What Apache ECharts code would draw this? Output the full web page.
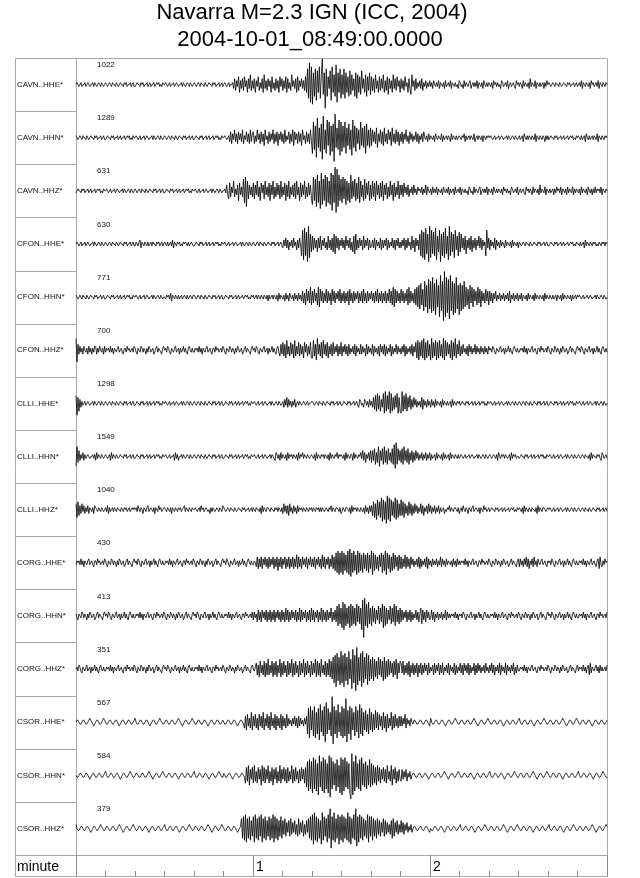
<!DOCTYPE html>
<html><head><meta charset="utf-8">
<script src="https://cdn.jsdelivr.net/npm/echarts@6/dist/echarts.min.js"></script>
<style>html,body{margin:0;padding:0;background:#fff}#c{width:640px;height:878px}</style>
</head><body><div id="c"></div>
<script>
// ---------- data ----------
const TITLE = 'Navarra M=2.3 IGN (ICC, 2004)';
const SUBTITLE = '2004-10-01_08:49:00.0000';
const channels = ['CAVN..HHE*','CAVN..HHN*','CAVN..HHZ*','CFON..HHE*','CFON..HHN*','CFON..HHZ*',
  'CLLI..HHE*','CLLI..HHN*','CLLI..HHZ*','CORG..HHE*','CORG..HHN*','CORG..HHZ*','CSOR..HHE*','CSOR..HHN*','CSOR..HHZ*'];
const maxCounts = [1022,1289,631,630,771,700,1298,1549,1040,430,413,351,567,584,379];
const durationSec = 180;           // x axis: 0 .. 3 minutes
const tickStepSec = 10;
const minuteTickSec = [60, 120];
const minuteTickLabels = ['1', '2'];
const timeUnitName = 'minute';
// Each trace: one letter per 1/3 s sample (30 letters = 10 s), 'M' = 0, 'A' = -12 ... 'Z' = +13 (normalised amplitude)
const trace_CAVN_HHE = [
 "MNMLM NLMMN LMNML MMNLN MLMNM LNMLM","NMLMN MLNMM LNMLM NMMLN MNLMM NLMNL","LMNMM LNMNL MMNLM NLMMN LMNMN LMLNM",
 "MNMLM NLMMN LMNML MMNLN MLMNM LNMLM","NMLMN MLNMM LNMLM NMMLN MNLMM NLMNL","MNMLM NLMMN KPJOL QIOKP JQLOI PKRJO",
 "KPIOL QJNKP IRKOJ PLOIQ KNJPK OIQLP","JOKQI PKNJR LOKPI QJOLP KOJQI UFXDV","CSGUE TIVFQ ZHSAU GQKTE VIRGW DSIUF",
 "RHUFS IQGTH RJPGS FRIQH TKPIR GQJSH","QJPIR KOIQJ PKRIO JQHPK OIRKP JQLOI","PKOJQ LNIPK HRLOJ PKNLO KPJNL OKNLO",
 "LNKOM LNLOK NMLNK OLMNL OKNML NLMKO","NLMKO LNMLN OKMNL NLOKN MLNKO MLNLN","MLNKO MNLNL MKONL MNLOK MNLMN LKOMN",
 "LNMKO LNMLN KPLNM LOKNM LNLMN KNLOM","NMLMN MLNMM LNMLM NMMLN MNLMM NLMNL","MNLOK NMLNM LNKOM NLMNL OKNML NMLNM"].join('');
const trace_CAVN_HHN = [
 "NMLMN MLNMM LNMLM NMMLN MNLMM NLMNL","LMNMM LNMNL MMNLM NLMMN LMNMN LMLNM","MNMLM NLMMN LMNML MMNLN MLMNM LNMLM",
 "NMLMN MLNMM LNMLM NMMLN MNLMM NLMNL","LMNMM LNMNL MMNLM NLMMN LMNMN LMLNM","MNMLM NKPJO LQKOJ PLOKQ JNLPK OJQKO",
 "PJNKQ LOJPK OIQLN JPKOL QJOKP IOLPK","OJQKN LPJOK QIPLO JPKOI QLNJP KOJQK","EUGSC WHRFT BXGQE VIUDS FTAYH RGVDU",
 "FSHUE RITGQ DVHSF RJQGU IRHSE TIQHR","IQKPJ RHOKQ JPIRK OJQLP IRKOJ QKPIO","KPJOL QKNJP LOKNL PKOJN LOKPM LNKOL",
 "NMLNK OMLNM LOKNL MNLNM KOLNM LNLMN","MLNMO KNLMN LNMLO KMNLN MLNKN MLNMN","MNMLM NLMMN LMNML MMNLN MLMNM LNMLM",
 "NLMNK OMLNL NMLNM LOKNM LNMLN MKNLN","LMNMM LNMNL MMNLM NLMMN LMNMN LMLNM","NMLNL MNKOM LNLMN LNMLO KNMLN MLNMN"].join('');
const trace_CAVN_HHZ = [
 "LMNMM LNMNL MMNLM NLMMN LMNMN LMLNM","MNMLM NLMMN LMNML MMNLN MLMNM LNMLM","NMLMN MLNMM LNMLM NMMLN MNLMM NLMNL",
 "LMNMM LNMNL MMNLM NLMMN LMNMN LMLNM","MNMLM NLMMN LMNML MMNLN MLMNM LNMLM","MNLPK IQJOL RJNKP HQKOJ SGTER IPKOJ",
 "QIPKR JOHQL PIRKO JQHPK RIOJQ KPIRJ","OKQHP JRIOK PJQIR KOHQJ PKRIO JQKPI","FTHSE UGRDV FSHUE TGRFV CUGYB XEUHS",
 "GTISF RHQGU IRJSH QITGR JPHSI QKRHP","IRJQH RKPIQ JRHPK QIOJR KPHQJ OKRIP","KPJQL OKPJN LOKPL NKOMN LOKNL PKOML",
 "NKOLN LOKNM LNKOM LNLOK NLMNK OLMNL","OKNML NLMKO NLMKO LNMLN OKMNL NLOKN","MLNKO MLNLN MLNKO MNLNL MKONL MNLOK",
 "MNLMN LKOMN LNMKO LNMLN KPLNM LOKNM","LNLMN KNLOM NLOKN MLNKO LNMLO KNLNM","LNKOL NMLNK OMLNK NLOLN MNLOK NMLNM"].join('');
const trace_CFON_HHE = [
 "MNMLM NLMMN LMNML MMNLN MLMNM LNMLM","NMLMN MLNMM LNMLM NMMLN MNLMM NLMNL","LNMLN OKNML NMLNL MNLNM MLNMN LMNLM",
 "NMLNL MNLOK NMLNM NLMLN MNMLN LMNML","LMNMM LNMNL MMNLM NLMMN LMNMN LMLNM","MNMLM NLMMN LMNML MMNLN MLMNM LNMLM",
 "NMLMN MLNMM LNMLM NMMLN MNLMM NLMNL","KOLPK OJNLO KPLNJ OKPLG TEUGS DVFRI","QJPKO IPKQJ OLPKN JQKOJ PIRHQ KPJOL",
 "PKOJQ LOKPJ NIQHR JOKPL OJQKO LPJOK","LOKPJ OLNKP JOKOL PJOKN LPKOJ OLPKN","KOLPJ OKPLN JQKOI PLOJR GTFSE UHRDV",
 "FTHSG UEQIT DRGSF UHQEV GSIRF TJQGS","IRKPJ QHOKP JQIOK PJOLQ KPJOL NGTKP","JOLNK PJOLN KOLNM KOLNM LNKOL NMLNK",
 "NMLMN MLNMM LNMLM NMMLN MNLMM NLMNL","LMNMM LNMNL MMNLM NLMMN LMNMN LMLNM","MLNLM NKOLN MLNML NMNLM LNMLN MNLNM"].join('');
const trace_CFON_HHN = [
 "NMLMN MLNMM LNMLM NMMLN MNLMM NLMNL","LMNMM LNMNL MMNLM NLMMN LMNMN LMLNM","MNMLM NLMMN LMNML MMNLN MLMNM LNMLM",
 "MLNMN LOKNM LNMLN LMNLM NMLNL MNMLN","NMLMN MLNMM LNMLM NMMLN MNLMM NLMNL","LMNMM LNMNL MMNLM NLMMN LMNMN LMLNM",
 "NLMNL NMLNM LNMLN KNLMN LNMLN KOLNM","LNKOL NKOML NKOLN KOLNK PJOIQ KPJRI","PJQKO IRHQK PJOKQ JPKOI QKPJO LPKQJ",
 "OKPJO KPIQK OJPKO LPJOK PJQKO JPKOL","PKOJP KQJOK PJOKP JOKQJ PIRHQ JPKOJ","QKPJO KQIRJ PKOJQ IRHSG TIQFU HSEVG",
 "UEWFT DVHSC XFUAZ CWEVB XFUDT EWGSD","TFSGU HRIQG SJRHQ KPIRJ QHPKO JQKPI","PKOJO LPKNL OKNLO KNLOK PJNLO KNLOK",
 "NLOKN MLNKO LNMLN KOLNM LNMLN KOLNM","LNMLN LMNKN MLNKO LNMLN MLNKN LMNLN","MNMLM NLMMN LMNML MMNLN MLMNM LNMLM"].join('');
const trace_CFON_HHZ = [
 "SGPKO LNKOM LNKOL NKNLO OKNLO MLNKO","LNMNL OLNKN MLNOL MNLKN NLOMN LMNLO","NLKNM LONLN MKNLO NLMNK LNOLN MLKNO",
 "MNLON LKNML NOLMN KNLMO LNLKN OMLNL","LNMNL OLNKN MLNOL MNLKN NLOMN LMNLO","NLKNM LONLN MKNLO NLMNK LNOLN MLKNO",
 "MNLON LKNML NOLMN KNLMO LNLKN OLJPK","QJPIR KOJQK PIRJO KQJPK OIQLP JOKQI","IRJPH SKPJQ IRKPJ QIOKP JQKOL PJOKQ",
 "JOLPK OJPKN LOKPJ OLNKP KOLNJ PKOLN","KPJOL NKOJP LOKPJ OKNLP JOKNL PKOLN","KOLPJ OKNLO KPJOL QIRHQ JRISH QIRJP",
 "HSIQJ RHQIR JPISH RJQKP IRHQJ SIPKR","JOKPL NKOJP LOKNL PKOLN KOLNK OLNKO","MNLON LKNML NOLMN KNLMO LNLKN OMLNL",
 "LNMNL OLNKN MLNOL MNLKN NLOMN LMNLO","NLKNM LONLN MKNLO NLMNK LNOLN MLKNO","MNLON LKNML NOLMN KNLMO LNLKN OMLNL"].join('');
const trace_CLLI_HHE = [
 "QGPIO KNLMN LMNML MMNLN MLMNM LNMLM","NMLMN MLNMM LNMLM NMMLN MNLMM NLMNL","LMNMM LNMNL MMNLM NLMMN LMNMN LMLNM",
 "MNMLM NLMMN LMNML MMNLN MLMNM LNMLM","NMLMN MLNMM LNMLM NMMLN MNLMM NLMNL","LMNMM LNMNL MMNLM NLMMN LMNMN LMLNM",
 "MNMLM NLMMN LMNML MMNLN MLMNM LNMLM","NKOLP KOLNK NLOKM NLNML MNMLM NLMMN","NMLMN MLNMM LNMLM NMMLN MNLMM NLMNL",
 "LMNMM LNMNL MMNLM NLKON LMKON LNKOL","NKPJQ IRJQI OKRHS IQJSH RIPJQ KRHPI","HSIQJ RIPKQ JOKPL OKNLN KPJOL NKOLN",
 "KOLNK OLNML NKOLN MLNLM NKOLN MLNMN","LMNMM LNMNL MMNLM NLMMN LMNMN LMLNM","MNMLM NLMMN LMNML MMNLN MLMNM LNMLM",
 "NMLMN MLNMM LNMLM NMMLN MNLMM NLMNL","LMNMM LNMNL MMNLM NLMMN LMNMN LMLNM","MNMLM NLMMN LMNML MMNLN MLMNM LNMLM"].join('');
const trace_CLLI_HHN = [
 "HRJPK NLOKN LMNML MMNLN KOLNM LNMLM","NMLMN KOLNM LNMLM NMMLN MNLMM NLMNL","LMNMM LNMNL MMNLM NLMMN LMNMN LMLNM",
 "MNMLM NLMMN KOLNK MMNLN MLMNM LNMLM","NMLMN MLNMM LNMLM NMMLN MNLMM NLMNL","LMNMM LNMNL MMNLM NLMMN LMNMN LMLNM",
 "MNMLM NLMMN LMNML MMNLN MLKON LNKOL","NMLNK OLNMN LNMLN KOLNM OLNML NMLMN","MLNKO LNMLN MNLNM LNKOL NMLNM OLNMN",
 "MLNKO LNMLN NKOLN MLNMO LPKOJ NLOKP","JPKQI OJRHP KQIRJ PIQKO JQISG TIQKP","JQIRK PJQIO KPJOK PLOKN LOKNL OKNLO",
 "KNLMN KOLNM LNKOL NLMNK OLNML NMLNL","MNMLM NLMMN LMNML MMNLN MLMNM LNMLM","NMLMN MLNKO MLNMN LNMLM NKOLN MNLMM",
 "LMNMM LNMNL MMNLM NLMMN LMNMN LMLNM","MNMLM NLMMN LMNML MMNLN MLMNM LNMLM","NMLMN MLNMM LNKOL NMMLN MNLKO NLMNL"].join('');
const trace_CLLI_HHZ = [
 "PIQJO KPLOK NLOKN MLNKO NMLNM LNMLM","NLOKN LMNLN MLNMM LNMLN MNLMN LMNMN","MNLOM LNMKN MLNOL MNMLN KNMLO MNLMN",
 "NMLNM LNKNM LNMLN MNLMN OLNML NMLNM","MNMLM NLOMN LMNML MKNLN MLMNM LNMLO","NMLMN MLNMM LNMLM NMMLN MNLMM NLMNL",
 "NMLNM MLNKO LNMLN NMLNM MLNMN LNMLN","KPLOK OJPLN KOLNK OLNMN LNMLN MLNMN","LNMLN MNLNL NMLMN MLNMO LNMLN NMLNK",
 "LNMLN NMLNK OLNMN LNMLN MLNKO LNKOL","OJQIP HRJQI SGRHQ FTHSG RJQIS HRIPJ","RJQIP KOJQK PJOKP LOKNL PKOJN LOKPL",
 "OKNLO KNLOK NLMNK MLNMO LNMLN NMLNK","MNLOM LNMKN MLNOL MNMLN KNMLO MNLMN","LMNMM LNMNL MMNLM NLMMN LMNMN LMLNM",
 "NMLNK OLNML NMLNM MLNKO LNMLN NMLMN","MNMLM NLMMN LMNML MMNLN MLMNM LNMLM","NMLMN MLNMM LNMLM NMMLN MNLMM NLMNL"].join('');
const trace_CORG_HHE = [
 "LNMNL OLNKN MLNOL MNLKN NLOMN LMNLO","NLKNM LONLN MKNLO NLMNK LNOLN MLKNO","MNLON LKNML NOLMN KNLMO LNLKN OMLNL",
 "LNMNL OLNKN MLNOL MNLKN NLOMN LMNLO","NLKNM LONLN MKNLO NLMNK LNOLN MLKNO","MNLON LKNML NOLMN KNLMO LNLKN OMLNL",
 "LNMKP JOKPJ OLPKO JPKOL PJOKP IOKPJ","OLPJO KPJOK PJOKQ JPKOJ PLOKP JOLPK","OKPJO LPKOJ QKPJO LPJOK QJPIR HSGRH",
 "SGRIQ HSGTF RHSIQ GSHRI QHRJQ IRHQJ","SGRIQ JPIQK RHQIS GRJQH PIRJQ KPIQJ","PJOKQ JPKOJ PLOKN LOKPJ OKNLO KPJOL",
 "NKOLN LOKNL PKOLN KOLNM LNKOL NKOLN","LNMNL OLNKN MLNOL MNLKN NLOMN LMNLO","NLKNM LONLN MKNLO NLMNK LNOLN MLKNO",
 "KOLNK OLPKO JNLOK PLNKO MLNOL MNLKN","MNLON LKNML NOLMN KNLMO LNLKN OMLNL","LNMNL OLNKN MLNOL MNLKN OJPLK NLOMN"].join('');
const trace_CORG_HHN = [
 "NLKNM LONLN MKNLO NLMNK LNOLN MLKNO","MNLON LKNML NOLMN KNLMO LNLKN OMLNL","LNMNL OLNKN MLNOL MNLKN NLOMN LMNLO",
 "NLKNM LONLN MKNLO NLMNK LNOLN MLKNO","MNLON LKNML NOLMN KNLMO LNLKN OMLNL","LNMNL OLNKN MLNOL MNLKN NLOMN LMNLO",
 "KOLNJ PKOJP LOKPJ OKPJO KPJOL PKOJP","KOJQK PJOKP LOKPJ OKQJP KOLPJ OKPJQ","KPJOL PJOKQ JPKOJ PKOLQ JOKPJ RHSIQ",
 "GTFSH QIRGS HRIQH SJRIQ FUBVH SGTIQ","HRJQI PKRIQ JSGRH QIPKR IQJSH RJPIQ","JPKOL PJOKP JOKNL PKOJN QIPKO JPLOK",
 "LPKOJ NLOKN LOKNL PKOLN LNMNL OLNKN","MNLON LKNML NOLMN KNLMO LNLKN OMLNL","LNMNL OLNKN MLNOL MNLKN NLOMN LMNLO",
 "NLKNM LONLN MKNLO NLMNK LNOLN MLKNO","MNLON LKNML NOLMN KNLMO LNLKN OMLNL","LNMNL OLNKN MLNOL MNLKN NLOMN LMNLO"].join('');
const trace_CORG_HHZ = [
 "MNLON LKNML NOLMN KNLMO LNLKN OMLNL","LNMNL OLNKN MLNOL MNLKN NLOMN LMNLO","NLKNM LONLN MKNLO NLMNK LNOLN MLKNO",
 "MNLON LKNML NOLMN KNLMO LNLKN OMLNL","LNMNL OLNKN MLNOL MNLKN NLOMN LMNLO","NLKNM LONLN MKNLO NLMNK LNOLN MLKNO",
 "MLNPJ OIQKO JQIPJ RJOKQ IPJQI OKRIP","JQKOI QJPKR IPJQK OIQJP KRIPJ QKOIQ","JPKRI QJPIR KOJQI PJRIQ HSFTD UGSEV",
 "FTDUG SEVHR CWFTB XESGU DVFSH UETGR","HSGRI QHSJR IQGSH QIRJQ KPIQJ RHPKQ","PKQJO KPJQI OKPJO KPIOK PJOKP LOJPK",
 "NLOJP KOLPJ OKPJN LOKPJ OLNKP JOKNL","PKOJP LOKPJ OKNLP JOKPL OKNLO KPLNK","OLPKO JNLOK PJOLN KPJOL NKOLP JNKOL",
 "LNMNL OLNKN MLNOL MNLKN NLOMN LMNLO","NLKNM LONLN MKNLO NLMNK LNOLN MLKNO","LNMNL OLNKN OJPKN MLNOL NKOLN LMNLO"].join('');
const trace_CSOR_HHE = [
 "MNNML LMNNM LLMNO NMLKL MNNML LMNON","MLLMN NMLLM NNMLK LMNNM LLMNN MLLMN","OMLLM NNMLL MNNML KLMNN MLLMN ONMLL",
 "MNNML LMNNM LLMNO NMLKL MNNML LMNON","MLLMN NMLLM NNMLK LMNNM LLMNN MLLMN","MLLMN NMLLM NNMLK LMNNM LJPIQ KOJRI",
 "PKQJO IQKPJ RIOKQ JPIRK OJQIP KOJQI","PKOJQ KOLNK OLPKO JPKOL NKOLP GTEUI","SFUER GTDVH SFUCW GTIRF ZBUGS EVHRF",
 "UETFY CSGUD TIRFU HSEVG TFRIS HQGTI","RHQIS JRIQK PIRJP HQJOK RIPJQ KOJPK","PKOLQ JOLNK OMLNN MLLMN NMLLM NNMLK",
 "OMLLM NNMLL MNNML KLMNN MLLMN ONMLL","MNNML LMNNM LLMNO NMLKL MNNML LMNON","MLLMN NMLLM NNMLK LMNNM LLMNN MLLMN",
 "OMLLM NNMLL MNNML KLMNN MLLMN ONMLL","MNNML LMNNM LLMNO NMLKL MNNML LMNON","MLLMN NMLLM NNMLK LMNNM LLMNN MLLMN"].join('');
const trace_CSOR_HHN = [
 "MLLMN NMLLM NNMLK LMNNM LLMNN MLLMN","OMLLM NNMLL MNNML KLMNN MLLMN ONMLL","MNNML LMNNM LLMNO NMLKL MNNML LMNON",
 "MLLMN NMLLM NNMLK LMNNM LLMNN MLLMN","OMLLM NNMLL MNNML KLMNN MLLMN ONMLL","NMLLM NNMLK LMNNM LLMNN MLIQJ RHPKQ",
 "IRJOI QKPHR JQIPK RIOJQ HPKQI OJRIP","KQJPI QJOKR IPJQK OIPJQ KPIQG TEUFT","DVFUE SCWGT EVDUF SDWBV FTHSE UGRDV",
 "CUEVG TFSDA XCTEW GSFUE VHSGT FRHUG","SHRIQ HRJQI PKQJP IRKOJ RHPKQ IOJPK","JPKOL PJNLO KMNNM LLMNN MLLMN NMLKL",
 "MNNML LMNNM LLMNO NMLKL MNNML LMNON","MLLMN NMLLM NNMLK LMNNM LLMNN MLLMN","OMLLM NNMLL MNNML KLMNN MLLMN ONMLL",
 "MNNML LMNNM LLMNO NMLKL MNNML LMNON","MLLMN NMLLM NNMLK LMNNM LLMNN MLLMN","OMLLM NNMLL MNNML KLMNN MLLMN ONMLL"].join('');
const trace_CSOR_HHZ = [
 "OMLLM NNMLL MNNML KLMNN MLLMN ONMLL","MNNML LMNNM LLMNO NMLKL MNNML LMNON","MLLMN NMLLM NNMLK LMNNM LLMNN MLLMN",
 "OMLLM NNMLL MNNML KLMNN MLLMN ONMLL","MNNML LMNNM LLMNO NMLKL MNNML LMNON","MLLMN NMLLM NNMLK LMNRH SGTFR HSGQI",
 "SFTHR GSITF RHSGQ ISGRH TFSHR GQISH","QJRIP KQIRJ PKQJO IRJPK QIOJQ KRHSG","TEUGS FRHQE UGSIR FTHWC SGUFR HTESG",
 "TFSHR GUFSE RHTGW DSFTH SGRIQ HTFSI","SGRIQ HRJQI PKRIQ JPKOJ QHRIP KQJOK","QKPJO LPKNL OKMNN MLLMN NMLLM NNMLK",
 "MLLMN NMLLM NNMLK LMNNM LLMNN MLLMN","OMLLM NNMLL MNNML KLMNN MLLMN ONMLL","MNNML LMNNM LLMNO NMLKL MNNML LMNON",
 "MLLMN NMLLM NNMLK LMNNM LLMNN MLLMN","OMLLM NNMLL MNNML KLMNN MLLMN ONMLL","MNNML LMNNM LLMNO NMLKL MNNML LMNON"].join('');
const traces = [trace_CAVN_HHE, trace_CAVN_HHN, trace_CAVN_HHZ, trace_CFON_HHE, trace_CFON_HHN, trace_CFON_HHZ,
  trace_CLLI_HHE, trace_CLLI_HHN, trace_CLLI_HHZ, trace_CORG_HHE, trace_CORG_HHN, trace_CORG_HHZ,
  trace_CSOR_HHE, trace_CSOR_HHN, trace_CSOR_HHZ];

// ---------- layout ----------
const FONT = '"Liberation Sans", Arial, Helvetica, sans-serif';
const FRAME_L = 15, FRAME_R = 607, PLOT_L = 76, TOP = 58, AXIS_TOP = 855, BOTTOM = 876;
const N = channels.length;
const rowH = (AXIS_TOP - TOP) / N;
const frameColor = '#a8a8a8';

function decode(s) {
  const c = s.replace(/\s+/g, '');
  const n = c.length, dt = durationSec / (n - 1);
  const out = [];
  for (let i = 0; i < n; i++) out.push([i * dt, c.charCodeAt(i) - 77]);
  return out;
}

const grid = [], xAxis = [], yAxis = [], series = [], graphic = [];
for (let i = 0; i < N; i++) {
  const top = TOP + i * rowH;
  grid.push({left: PLOT_L, right: 640 - FRAME_R, top: top, height: rowH});
  xAxis.push({gridIndex: i, type: 'value', min: 0, max: durationSec, show: false});
  yAxis.push({gridIndex: i, type: 'value', min: -13.5, max: 13.5,
    axisLine: {show: false}, axisTick: {show: false}, axisLabel: {show: false}, splitLine: {show: false},
    name: channels[i], nameLocation: 'middle', nameGap: PLOT_L - FRAME_L - 2, nameRotate: 0,
    nameTextStyle: {align: 'left', verticalAlign: 'middle', fontSize: 8, color: '#111', fontFamily: FONT}});
  // one polyline per trace (lines series keeps every sub-pixel wiggle)
  series.push({type: 'lines', coordinateSystem: 'cartesian2d', xAxisIndex: i, yAxisIndex: i,
    polyline: true, silent: true, large: false,
    data: [{coords: decode(traces[i])}],
    lineStyle: {color: '#000', width: 0.8, opacity: 1, curveness: 0}});
  graphic.push({type: 'text', x: 97, y: top + 7, silent: true,
    style: {text: String(maxCounts[i]), fontSize: 8, fontFamily: FONT, fill: '#111', verticalAlign: 'middle'}});
  if (i > 0) graphic.push({type: 'line', silent: true, shape: {x1: FRAME_L, y1: Math.round(top) + 0.5, x2: PLOT_L, y2: Math.round(top) + 0.5},
    style: {stroke: frameColor, lineWidth: 1}});
}
// bottom time axis
grid.push({left: PLOT_L, right: 640 - FRAME_R, top: AXIS_TOP, height: BOTTOM - AXIS_TOP});
xAxis.push({gridIndex: N, type: 'value', min: 0, max: durationSec, interval: tickStepSec, position: 'bottom',
  axisLine: {show: false}, splitLine: {show: false},
  axisTick: {show: true, inside: true, length: 5, lineStyle: {color: '#888', width: 1}},
  axisLabel: {show: true, inside: true, margin: 9, align: 'left', verticalAlign: 'middle', padding: [0, 0, 0, 3],
    fontSize: 14, color: '#000', fontFamily: FONT,
    formatter: v => { const k = minuteTickSec.indexOf(v); return k >= 0 ? minuteTickLabels[k] : ''; }}});
xAxis.push({gridIndex: N, type: 'value', min: 0, max: durationSec, interval: 60, position: 'bottom',
  axisLine: {show: false}, splitLine: {show: false}, axisLabel: {show: false},
  axisTick: {show: true, inside: true, length: BOTTOM - AXIS_TOP, lineStyle: {color: '#888', width: 1}}});
yAxis.push({gridIndex: N, type: 'value', min: 0, max: 1, show: false});

// frame
graphic.push({type: 'rect', silent: true, shape: {x: FRAME_L + 0.5, y: TOP + 0.5, width: FRAME_R - FRAME_L, height: BOTTOM - TOP},
  style: {fill: 'none', stroke: frameColor, lineWidth: 1}});
graphic.push({type: 'line', silent: true, shape: {x1: PLOT_L + 0.5, y1: TOP, x2: PLOT_L + 0.5, y2: BOTTOM},
  style: {stroke: frameColor, lineWidth: 1}});
graphic.push({type: 'line', silent: true, shape: {x1: FRAME_L, y1: AXIS_TOP + 0.5, x2: FRAME_R, y2: AXIS_TOP + 0.5},
  style: {stroke: frameColor, lineWidth: 1}});
graphic.push({type: 'text', x: 17, y: 867, silent: true,
  style: {text: timeUnitName, fontSize: 14, fontFamily: FONT, fill: '#000', verticalAlign: 'middle'}});

const chart = echarts.init(document.getElementById('c'), null, {renderer: 'canvas'});
chart.setOption({
  animation: false,
  backgroundColor: '#fff',
  title: [
    {text: TITLE, left: 312, top: 2, padding: 0, textAlign: 'center',
      textStyle: {fontSize: 22, fontWeight: 'normal', color: '#000', fontFamily: FONT}},
    {text: SUBTITLE, left: 310, top: 29, padding: 0, textAlign: 'center',
      textStyle: {fontSize: 22, fontWeight: 'normal', color: '#000', fontFamily: FONT}}
  ],
  grid, xAxis, yAxis, series, graphic
});
</script>
</body></html>
